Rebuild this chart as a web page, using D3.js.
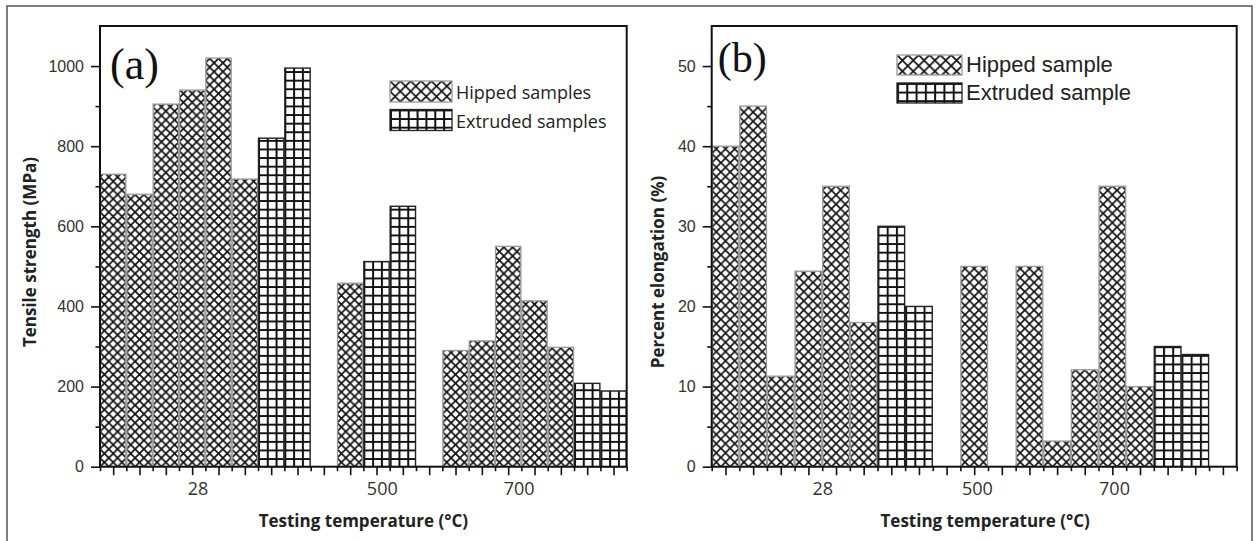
<!DOCTYPE html>
<html>
<head>
<meta charset="utf-8">
<script src="https://cdn.jsdelivr.net/npm/d3@7"></script>
<style>
  body { margin: 0; background: #fff; }
  svg { display: block; }
</style>
</head>
<body>
<div id="chart"></div>
<script>
// Data. null = empty slot on the category axis
const tempLabels = ["28", "500", "700"];

// (a) tensile strength, one entry per bar slot
const tensileKind = ["H","H","H","H","H","H","E","E",null,"H","E","E",null,"H","H","H","H","H","E","E"];
const tensileValues = [730, 680, 905, 940, 1020, 718, 820, 995, null, 458, 512, 650, null, 290, 314, 550, 414, 298, 208, 189];
const tensileLabelSlot = [3.7, 10.7, 15.9];
const tensileTicks = [0, 200, 400, 600, 800, 1000];

// (b) percent elongation
const elongKind = ["H","H","H","H","H","H","E","E",null,"H",null,"H","H","H","H","H","E","E",null];
const elongValues = [40, 45, 11.3, 24.4, 35, 18, 30, 20, null, 25, null, 25, 3.2, 12.1, 35, 10, 15, 14, null];
const elongLabelSlot = [4.0, 9.6, 14.56];
const elongTicks = [0, 10, 20, 30, 40, 50];

const W = 1256, H = 541;

const svg = d3.select("#chart").append("svg")
    .attr("width", W)
    .attr("height", H);

const defs = svg.append("defs");

// outer frame of the figure
svg.append("rect")
    .attr("x", 7).attr("y", 6)
    .attr("width", 1245).attr("height", 545)
    .attr("fill", "none")
    .attr("stroke", "#555")
    .attr("stroke-width", 1.5);

let patId = 0;
// cell = width of one pattern cell (hatch: one X, grid: one square)
function makePattern(kind, x0, y0, cell) {
    const id = "pat" + (patId++);
    if (kind === "H") {
        const w = cell, h = cell;
        const p = defs.append("pattern")
            .attr("id", id)
            .attr("patternUnits", "userSpaceOnUse")
            .attr("x", x0).attr("y", y0)
            .attr("width", w).attr("height", h);
        p.append("rect").attr("width", w).attr("height", h).attr("fill", "#fff");
        p.append("path")
            .attr("d", `M${-w/4},${-h/4}L${w*1.25},${h*1.25}M${w*1.25},${-h/4}L${-w/4},${h*1.25}`)
            .attr("stroke", "#111")
            .attr("stroke-width", 1.7);
    } else {
        const w = cell, h = 8.6;
        const p = defs.append("pattern")
            .attr("id", id)
            .attr("patternUnits", "userSpaceOnUse")
            .attr("x", x0).attr("y", y0)
            .attr("width", w).attr("height", h);
        p.append("rect").attr("width", w).attr("height", h).attr("fill", "#fff");
        p.append("path")
            .attr("d", `M1,0V${h}M0,1H${w}`)
            .attr("stroke", "#111")
            .attr("stroke-width", 2);
    }
    return "url(#" + id + ")";
}

function drawPanel(cfg) {
    const n = cfg.values.length;
    const x = d3.scaleLinear().domain([0, n]).range([cfg.left, cfg.right]);
    const y = d3.scaleLinear().domain([0, cfg.ymax]).range([cfg.bottom, cfg.top]);
    const g = svg.append("g");

    // bars
    cfg.values.forEach((v, i) => {
        if (v == null) return;
        const kind = cfg.kind[i];
        const bx = x(i), bw = x(i + 1) - x(i);
        g.append("rect")
            .attr("x", bx + 0.5)
            .attr("y", y(v))
            .attr("width", bw - 1)
            .attr("height", y(0) - y(v))
            .attr("fill", makePattern(kind, bx, y(0), bw / 3))
            .attr("stroke", kind === "H" ? "#9a9a9a" : "#222")
            .attr("stroke-width", kind === "H" ? 1.3 : 1.4);
    });

    // y axis: major + minor ticks
    const majors = cfg.ticks;
    const step = majors[1] - majors[0];
    const minors = d3.range(step / 2, cfg.ymax, step).filter(t => !majors.includes(t));

    g.append("g")
        .attr("transform", `translate(${cfg.left},0)`)
        .call(d3.axisLeft(y).tickValues(minors).tickSize(4.5).tickFormat(""))
        .call(a => a.select(".domain").remove())
        .call(a => a.selectAll("line").attr("stroke", "#111").attr("stroke-width", 1.6));

    g.append("g")
        .attr("transform", `translate(${cfg.left},0)`)
        .call(d3.axisLeft(y).tickValues(majors).tickSize(9).tickPadding(7).tickFormat(d3.format("d")))
        .call(a => a.select(".domain").remove())
        .call(a => a.selectAll("line").attr("stroke", "#111").attr("stroke-width", 1.6))
        .call(a => a.selectAll("text")
            .attr("font-family", "'Liberation Sans', Arial, sans-serif")
            .attr("font-size", 16)
            .attr("fill", "#333"));

    // x axis: short ticks at bar edges, long ticks at bar centers
    g.append("g")
        .attr("transform", `translate(0,${cfg.bottom})`)
        .call(d3.axisBottom(x).tickValues(d3.range(0, n + 1)).tickSize(4.5).tickFormat(""))
        .call(a => a.select(".domain").remove())
        .call(a => a.selectAll("line").attr("stroke", "#111").attr("stroke-width", 1.6));

    g.append("g")
        .attr("transform", `translate(0,${cfg.bottom})`)
        .call(d3.axisBottom(x).tickValues(d3.range(0.5, n, 1)).tickSize(8.5).tickFormat(""))
        .call(a => a.select(".domain").remove())
        .call(a => a.selectAll("line").attr("stroke", "#111").attr("stroke-width", 1.6));

    g.append("g")
        .attr("transform", `translate(0,${cfg.bottom})`)
        .call(d3.axisBottom(x).tickValues(cfg.labelSlot).tickSize(0).tickPadding(16)
            .tickFormat((d, i) => tempLabels[i]))
        .call(a => a.select(".domain").remove())
        .call(a => a.selectAll("text")
            .attr("font-family", "'Open Sans', sans-serif")
            .attr("font-size", 18)
            .attr("fill", "#333"));

    // plot frame
    g.append("rect")
        .attr("x", cfg.left).attr("y", cfg.top)
        .attr("width", cfg.right - cfg.left)
        .attr("height", cfg.bottom - cfg.top)
        .attr("fill", "none")
        .attr("stroke", "#111")
        .attr("stroke-width", 2);

    // axis titles
    g.append("text")
        .attr("x", (cfg.left + cfg.right) / 2 + cfg.xTitleShift)
        .attr("y", 527)
        .attr("text-anchor", "middle")
        .attr("font-family", "'Open Sans', sans-serif")
        .attr("font-weight", "bold")
        .attr("font-size", 17)
        .attr("fill", "#222")
        .text("Testing temperature (°C)");

    g.append("text")
        .attr("transform", `translate(${cfg.yTitleX},${cfg.yTitleY}) rotate(-90)`)
        .attr("text-anchor", "middle")
        .attr("font-family", "'Open Sans', sans-serif")
        .attr("font-weight", "bold")
        .attr("font-size", 17)
        .attr("fill", "#222")
        .text(cfg.yTitle);

    // panel letter
    g.append("text")
        .attr("x", cfg.left + cfg.letterDx)
        .attr("y", cfg.letterY)
        .attr("font-family", "'Liberation Serif', 'Times New Roman', serif")
        .attr("font-size", cfg.letterSize)
        .attr("fill", "#111")
        .text(cfg.letter);

    // legend
    const leg = g.append("g");
    cfg.legend.forEach((d, i) => {
        const ly = cfg.legY + i * cfg.legGap;
        leg.append("rect")
            .attr("x", cfg.legX)
            .attr("y", ly)
            .attr("width", cfg.legW)
            .attr("height", cfg.legH)
            .attr("fill", makePattern(d.kind, cfg.legX, ly, d.kind === "H" ? cfg.legW / 6 : cfg.legW / 7))
            .attr("stroke", d.kind === "H" ? "#9a9a9a" : "#222")
            .attr("stroke-width", 1.3);
        leg.append("text")
            .attr("x", cfg.legX + cfg.legW + 4)
            .attr("y", ly + cfg.legH - 3)
            .attr("font-family", cfg.legFont)
            .attr("font-size", cfg.legSize)
            .attr("fill", "#222")
            .text(d.label);
    });
}

drawPanel({
    values: tensileValues, kind: tensileKind, labelSlot: tensileLabelSlot, ticks: tensileTicks,
    ymax: 1100, left: 100, right: 626.7, top: 26, bottom: 466.7,
    xTitleShift: 0, yTitle: "Tensile strength (MPa)", yTitleX: 36, yTitleY: 252,
    letter: "(a)", letterDx: 10, letterY: 79, letterSize: 44,
    legend: [{kind: "H", label: "Hipped samples"}, {kind: "E", label: "Extruded samples"}],
    legX: 390, legY: 81, legGap: 28.5, legW: 62, legH: 21,
    legFont: "'Open Sans', sans-serif", legSize: 18
});

drawPanel({
    values: elongValues, kind: elongKind, labelSlot: elongLabelSlot, ticks: elongTicks,
    ymax: 55, left: 711.7, right: 1236.7, top: 26, bottom: 466.7,
    xTitleShift: 11, yTitle: "Percent elongation (%)", yTitleX: 664, yTitleY: 272,
    letter: "(b)", letterDx: 6, letterY: 72, letterSize: 42,
    legend: [{kind: "H", label: "Hipped sample"}, {kind: "E", label: "Extruded sample"}],
    legX: 897, legY: 55, legGap: 28, legW: 65, legH: 20,
    legFont: "'Liberation Sans', Arial, sans-serif", legSize: 22
});
</script>
</body>
</html>
